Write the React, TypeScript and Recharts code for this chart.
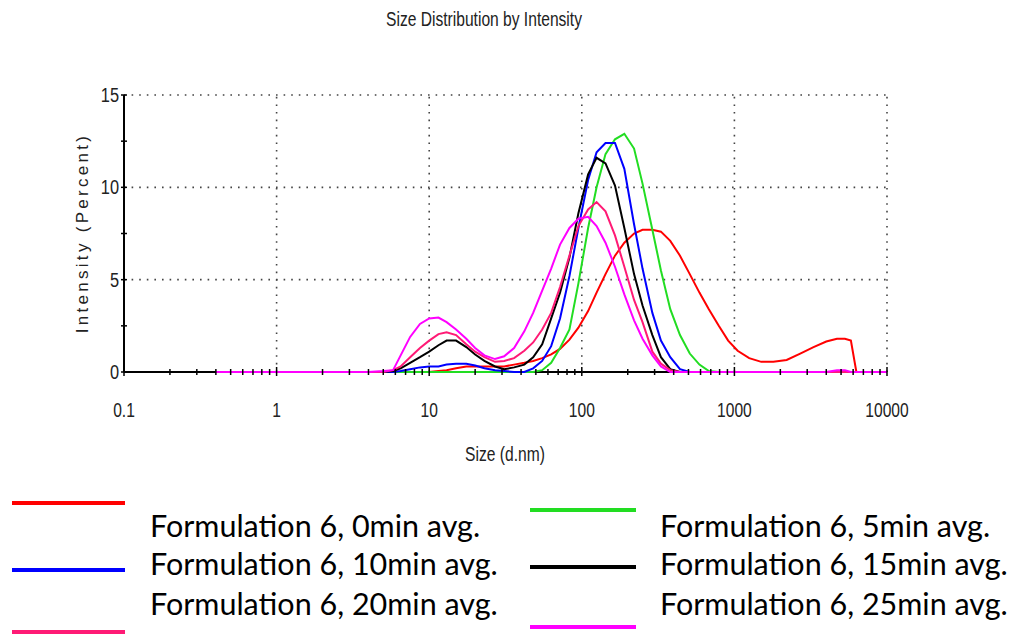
import {
  LineChart,
  Line,
  XAxis,
  YAxis,
  ReferenceLine,
} from "recharts";

// particle sizes (d.nm) shared by all runs
const sizes = [
  0.4, 1, 2, 4, 5, 5.8, 6.5, 7.5, 8.7, 10, 11.5, 13, 15, 17.5, 20, 23, 27, 31,
  36, 42, 48, 55, 63, 72, 83, 95, 110, 125, 143, 165, 190, 220, 250, 290, 330,
  380, 440, 510, 590, 680, 790, 910, 1050, 1250, 1500, 1800, 2200, 2700, 3300,
  4000, 4700, 5300, 5800, 6300, 7000, 8500, 10000,
];

// intensity (%) per size for each sampling time
const min0 = [
  0, 0, 0, 0, 0, 0, 0, 0, 0, 0, 0.05, 0.1, 0.2, 0.3, 0.3, 0.3, 0.3, 0.3, 0.4,
  0.5, 0.6, 0.75, 0.95, 1.25, 1.75, 2.4, 3.3, 4.3, 5.3, 6.3, 7.0, 7.5, 7.7,
  7.7, 7.6, 7.1, 6.3, 5.3, 4.3, 3.4, 2.5, 1.7, 1.15, 0.75, 0.55, 0.55, 0.65,
  1.0, 1.35, 1.65, 1.8, 1.8, 1.7, 0, 0, 0, 0,
];
const min5 = [
  0, 0, 0, 0, 0, 0, 0, 0, 0, 0, 0, 0, 0, 0, 0, 0, 0, 0, 0, 0, 0, 0.1, 0.5, 1.3,
  2.3, 4.8, 7.8, 10.0, 11.8, 12.6, 12.9, 12.1, 10.2, 7.7, 5.5, 3.4, 2.0, 1.0,
  0.4, 0.05, 0, 0, 0, 0, 0, 0, 0, 0, 0, 0, 0, 0, 0, 0, 0, 0, 0,
];
const min10 = [
  0, 0, 0, 0, 0, 0, 0.05, 0.15, 0.25, 0.3, 0.3, 0.4, 0.45, 0.45, 0.35, 0.2,
  0.1, 0.05, 0, 0, 0.2, 0.6, 1.4, 2.9, 5.2, 7.8, 10.4, 11.9, 12.4, 12.4, 11.0,
  8.0, 5.6, 3.2, 1.7, 0.8, 0.15, 0, 0, 0, 0, 0, 0, 0, 0, 0, 0, 0, 0, 0, 0, 0,
  0, 0, 0, 0, 0,
];
const min15 = [
  0, 0, 0, 0, 0, 0.05, 0.2, 0.5, 0.8, 1.1, 1.45, 1.7, 1.7, 1.35, 0.95, 0.6,
  0.3, 0.15, 0.25, 0.4, 0.8, 1.5, 2.9, 4.3, 6.2, 8.6, 10.7, 11.6, 11.3, 10.1,
  7.8, 5.3, 3.6, 2.0, 0.8, 0.15, 0, 0, 0, 0, 0, 0, 0, 0, 0, 0, 0, 0, 0, 0, 0,
  0, 0, 0, 0, 0, 0,
];
const min20 = [
  0, 0, 0, 0, 0, 0.1, 0.3, 0.8, 1.3, 1.7, 2.05, 2.15, 2.0, 1.5, 1.1, 0.8, 0.55,
  0.6, 0.75, 1.15, 1.6, 2.3, 3.2, 4.6, 6.3, 7.9, 8.8, 9.2, 8.7, 7.4, 5.7, 3.9,
  2.7, 1.1, 0.45, 0.1, 0, 0, 0, 0, 0, 0, 0, 0, 0, 0, 0, 0, 0, 0, 0, 0, 0, 0, 0,
  0, 0,
];
const min25 = [
  0, 0, 0, 0, 0.05, 0.1, 0.9, 1.9, 2.6, 2.9, 2.95, 2.7, 2.3, 1.8, 1.3, 0.9, 0.7,
  0.85, 1.3, 2.2, 3.2, 4.4, 5.6, 6.9, 7.8, 8.3, 8.4, 7.9, 7.0, 5.7, 4.2, 2.8,
  1.8, 0.9, 0.3, 0, 0, 0, 0, 0, 0, 0, 0, 0, 0, 0, 0, 0, 0, 0, 0.1, 0.1, 0, 0,
  0, 0, 0,
];

const series = [
  { key: "min0", name: "Formulation 6, 0min avg.", color: "#ff0000", values: min0 },
  { key: "min5", name: "Formulation 6, 5min avg.", color: "#22dd22", values: min5 },
  { key: "min10", name: "Formulation 6, 10min avg.", color: "#0000ff", values: min10 },
  { key: "min15", name: "Formulation 6, 15min avg.", color: "#000000", values: min15 },
  { key: "min20", name: "Formulation 6, 20min avg.", color: "#ff1a75", values: min20 },
  { key: "min25", name: "Formulation 6, 25min avg.", color: "#ff00ff", values: min25 },
];

const xMajor = [0.1, 1, 10, 100, 1000, 10000];
const xMinorSteps = [2, 3, 4, 5, 6, 7, 8, 9];
const yMajor = [0, 5, 10, 15];
const yMinor = [2.5, 7.5, 12.5];

const xTicks = xMajor.flatMap((m) =>
  m < 10000 ? [m, ...xMinorSteps.map((k) => +(m * k).toPrecision(3))] : [m]
);
const yTicks = [...yMajor, ...yMinor].sort((a, b) => a - b);

const rows = sizes.map((s, i) => {
  const r: Record<string, number> = { size: s };
  series.forEach((se) => (r[se.key] = se.values[i]));
  return r;
});

const sans = "'Liberation Sans', Arial, sans-serif";
const squeeze = 0.78;

const XTick = (props: any) => {
  const { x, y, payload } = props;
  const major = xMajor.includes(payload.value);
  return (
    <g>
      <line
        x1={x}
        x2={x}
        y1={y - (major ? 5 : 3)}
        y2={y + (major ? 4 : 3)}
        stroke="#000"
        strokeWidth={1.5}
      />
      {major && (
        <text
          transform={`translate(${x},${y + 45}) scale(${squeeze},1)`}
          textAnchor="middle"
          fontFamily={sans}
          fontSize={20}
          fill="#222"
        >
          {payload.value}
        </text>
      )}
    </g>
  );
};

const YTick = (props: any) => {
  const { x, y, payload } = props;
  const major = yMajor.includes(payload.value);
  return (
    <g>
      <line x1={x - 3} x2={x + 3} y1={y} y2={y} stroke="#000" strokeWidth={1.5} />
      {major && (
        <text
          transform={`translate(${x - 5},${y + 7}) scale(${squeeze},1)`}
          textAnchor="end"
          fontFamily={sans}
          fontSize={21}
          fill="#222"
        >
          {payload.value}
        </text>
      )}
    </g>
  );
};

// legend placement: left column then right column
const legendCols = [
  { lineX: 12, lineW: 113, textX: 150 },
  { lineX: 530, lineW: 106, textX: 660 },
];
const legendLineY = [503, 510, 570, 567, 632, 627];
const legendTextY = [525, 525, 563, 563, 603, 603];

export default function App() {
  return (
    <div style={{ position: "absolute", left: 0, top: 0, width: 1018, height: 637, background: "#fff" }}>
      <div
        style={{
          position: "absolute",
          top: 8,
          left: 484,
          transform: `translateX(-50%) scaleX(${squeeze})`,
          fontFamily: sans,
          fontSize: 20,
          color: "#222",
          whiteSpace: "nowrap",
        }}
      >
        Size Distribution by Intensity
      </div>
      <LineChart
        width={1018}
        height={637}
        data={rows}
        margin={{ top: 95, right: 131, bottom: 235, left: 64 }}
      >
        <XAxis
          dataKey="size"
          type="number"
          scale="log"
          domain={[0.1, 10000]}
          allowDataOverflow
          ticks={xTicks}
          interval={0}
          tick={<XTick />}
          tickLine={false}
          tickSize={0}
          tickMargin={0}
          height={30}
          axisLine={false}
          zIndex={700}
        />
        <YAxis
          type="number"
          domain={[0, 15]}
          ticks={yTicks}
          interval={0}
          tick={<YTick />}
          tickLine={false}
          tickSize={0}
          tickMargin={0}
          width={60}
          axisLine={{ stroke: "#000", strokeWidth: 2 }}
        />
        <ReferenceLine y={0} stroke="#000" strokeWidth={2} />
        {[5, 10, 15].map((v) => (
          <ReferenceLine key={"h" + v} y={v} stroke="#444" strokeWidth={1.6} strokeDasharray="1.6 6" />
        ))}
        {[1, 10, 100, 1000, 10000].map((v) => (
          <ReferenceLine key={"v" + v} x={v} stroke="#444" strokeWidth={1.6} strokeDasharray="1.6 6" />
        ))}
        {series.map((se) => (
          <Line
            key={se.key}
            dataKey={se.key}
            name={se.name}
            type="linear"
            stroke={se.color}
            strokeWidth={2}
            dot={false}
            isAnimationActive={false}
            zIndex={600}
          />
        ))}
      </LineChart>
      <div
        style={{
          position: "absolute",
          left: 505,
          top: 443,
          transform: `translateX(-50%) scaleX(${squeeze})`,
          fontFamily: sans,
          fontSize: 20,
          color: "#222",
          whiteSpace: "nowrap",
        }}
      >
        Size (d.nm)
      </div>
      <div
        style={{
          position: "absolute",
          left: 83,
          top: 233,
          transform: "translate(-50%, -50%) rotate(-90deg)",
          fontFamily: sans,
          fontSize: 17,
          letterSpacing: 3.3,
          color: "#222",
          whiteSpace: "nowrap",
        }}
      >
        Intensity (Percent)
      </div>
      {series.map((se, i) => {
        const col = legendCols[i % 2];
        return (
          <div key={se.key}>
            <div
              style={{
                position: "absolute",
                left: col.lineX,
                top: legendLineY[i] - 2,
                width: col.lineW,
                height: 4,
                background: se.color,
              }}
            />
            <div
              style={{
                position: "absolute",
                left: col.textX,
                top: legendTextY[i] - 19,
                lineHeight: "38px",
                fontFamily: "Lato, 'Open Sans', sans-serif",
                fontSize: 30.5,
                color: "#000",
                whiteSpace: "nowrap",
              }}
            >
              {se.name}
            </div>
          </div>
        );
      })}
    </div>
  );
}
